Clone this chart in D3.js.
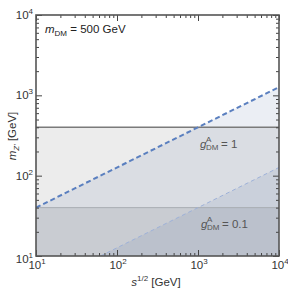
<!DOCTYPE html>
<html><head><meta charset="utf-8">
<script src="https://cdn.jsdelivr.net/npm/d3@7"></script>
<style>body{margin:0;background:#fff}svg{display:block;font-family:"Liberation Sans",Arial,sans-serif}</style>
</head><body><svg id="c" width="288" height="291"></svg>
<script>
// Data
const xDomain = [10, 10000];
const yDomain = [10, 10000];
const majorTicks = [10, 100, 1000, 10000];
const tickExponents = ["1", "2", "3", "4"];
const limitLines = [400, 40];           // horizontal m_Z' limits
const g1S = [10, 1000, 10000];          // sqrt(s) for g=1 line
const g1M = [40, 400, 1265];            // m_Z' for g=1 line
const g01S = [62.5, 1000, 10000];       // sqrt(s) for g=0.1 line
const g01M = [10, 40, 126.5];           // m_Z' for g=0.1 line

const svg = d3.select("#c");
const L = 36, R = 279, T = 15, B = 256;
const x = d3.scaleLog().domain(xDomain).range([L, R]);
const y = d3.scaleLog().domain(yDomain).range([B, T]);

const minor = [];
for (let e = 1; e < 4; e++) for (let k = 2; k <= 9; k++) minor.push(k * Math.pow(10, e));

svg.append("defs").append("clipPath").attr("id", "clip")
  .append("rect").attr("x", L).attr("y", T).attr("width", R - L).attr("height", B - T);
const plot = svg.append("g").attr("clip-path", "url(#clip)");

const grayFill = "#000", grayOp = 0.075;
const blueFill = "#5873a6", blueOp = 0.12;

plot.append("rect").attr("x", L).attr("y", y(limitLines[0])).attr("width", R - L)
  .attr("height", B - y(limitLines[0])).attr("fill", grayFill).attr("opacity", grayOp);
const area = d3.area().x(d => x(d[0])).y0(B).y1(d => y(d[1]));
plot.append("path").datum(g1S.map((s, i) => [s, g1M[i]])).attr("d", area)
  .attr("fill", blueFill).attr("opacity", blueOp);
plot.append("rect").attr("x", L).attr("y", y(limitLines[1])).attr("width", R - L)
  .attr("height", B - y(limitLines[1])).attr("fill", grayFill).attr("opacity", grayOp);
plot.append("path").datum(g01S.map((s, i) => [s, g01M[i]])).attr("d", area)
  .attr("fill", blueFill).attr("opacity", blueOp);

plot.append("line").attr("x1", L).attr("x2", R).attr("y1", y(limitLines[0])).attr("y2", y(limitLines[0]))
  .attr("stroke", "#7a7a7a").attr("stroke-width", 1.5);
plot.append("line").attr("x1", L).attr("x2", R).attr("y1", y(limitLines[1])).attr("y2", y(limitLines[1]))
  .attr("stroke", "#a9adb3").attr("stroke-width", 1);

const line = d3.line().x(d => x(d[0])).y(d => y(d[1]));
plot.append("path").datum(g1S.map((s, i) => [s, g1M[i]])).attr("d", line)
  .attr("fill", "none").attr("stroke", "#5a7fbf").attr("stroke-width", 2).attr("stroke-dasharray", "5,3");
plot.append("path").datum(g01S.map((s, i) => [s, g01M[i]])).attr("d", line)
  .attr("fill", "none").attr("stroke", "#9db1d8").attr("stroke-width", 1).attr("stroke-dasharray", "4,3");

function addAxis(axisFn, scale, transform, vals, size) {
  const g = svg.append("g").attr("transform", transform)
    .call(axisFn(scale).tickValues(vals).tickSize(-size).tickFormat(""));
  g.select(".domain").remove();
  g.selectAll("line").attr("stroke", "#444").attr("stroke-width", 1);
}
[[d3.axisBottom, x, `translate(0,${B})`], [d3.axisTop, x, `translate(0,${T})`],
 [d3.axisLeft, y, `translate(${L},0)`], [d3.axisRight, y, `translate(${R},0)`]].forEach(([f, s, t]) => {
  addAxis(f, s, t, majorTicks, 6);
  addAxis(f, s, t, minor, 3);
});
svg.append("rect").attr("x", L).attr("y", T).attr("width", R - L).attr("height", B - T)
  .attr("fill", "none").attr("stroke", "#555").attr("stroke-width", 1.6);

function powLabel(px, py, exp, anchor) {
  const t = svg.append("text").attr("x", px).attr("y", py).attr("font-size", 11.5)
    .attr("fill", "#333").attr("text-anchor", anchor);
  t.append("tspan").text("10");
  t.append("tspan").attr("dy", -5).attr("font-size", 8).text(exp);
}
majorTicks.forEach((v, i) => {
  powLabel(x(v) + 1, 269, tickExponents[i], "middle");
  powLabel(L - 3, y(v) + (i === 0 ? 7 : 4), tickExponents[i], "end");
});

const xt = svg.append("text").attr("x", 156).attr("y", 286).attr("text-anchor", "middle")
  .attr("font-size", 11.5).attr("fill", "#333");
xt.append("tspan").attr("font-style", "italic").text("s");
xt.append("tspan").attr("dy", -5).attr("font-size", 8).text("1/2");
xt.append("tspan").attr("dy", 5).text(" [GeV]");

const yt = svg.append("text").attr("transform", "translate(16,136) rotate(-90)").attr("text-anchor", "middle")
  .attr("font-size", 11.5).attr("fill", "#333");
yt.append("tspan").attr("font-style", "italic").text("m");
yt.append("tspan").attr("dy", 3).attr("font-size", 8).attr("font-style", "italic").text("Z′");
yt.append("tspan").attr("dy", -3).text(" [GeV]");

const mt = svg.append("text").attr("x", 45).attr("y", 33).attr("font-size", 11.5).attr("fill", "#222");
mt.append("tspan").attr("font-style", "italic").text("m");
mt.append("tspan").attr("dy", 3).attr("font-size", 8).text("DM");
mt.append("tspan").attr("dy", -3).text(" = 500 GeV");

function gLabel(px, py, val) {
  const g = svg.append("g").attr("fill", "#555");
  g.append("text").attr("x", px).attr("y", py).attr("font-size", 11.5).attr("font-style", "italic").text("g");
  g.append("text").attr("x", px + 6).attr("y", py - 6).attr("font-size", 8).text("A");
  g.append("text").attr("x", px + 6).attr("y", py + 2).attr("font-size", 8).text("DM");
  g.append("text").attr("x", px + 21).attr("y", py).attr("font-size", 11.5).text("= " + val);
}
gLabel(200, 148, "1");
gLabel(201, 228, "0.1");
</script></body></html>
